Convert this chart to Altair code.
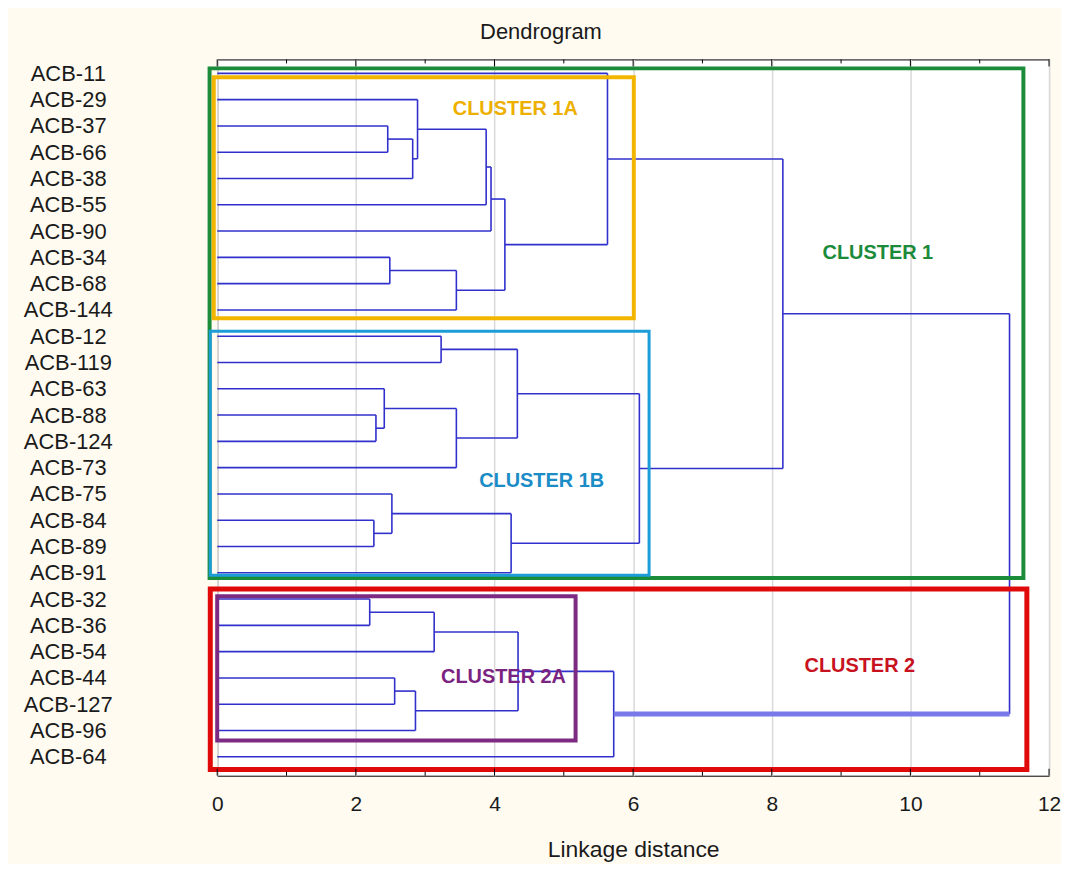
import json
import altair as alt
import pandas as pd

# ---------------- data ----------------
leaves = ["ACB-11", "ACB-29", "ACB-37", "ACB-66", "ACB-38", "ACB-55", "ACB-90", "ACB-34", "ACB-68", "ACB-144",
          "ACB-12", "ACB-119", "ACB-63", "ACB-88", "ACB-124", "ACB-73", "ACB-75", "ACB-84", "ACB-89", "ACB-91",
          "ACB-32", "ACB-36", "ACB-54", "ACB-44", "ACB-127", "ACB-96", "ACB-64"]

merge_ids = ["m1", "m2", "m3", "m4", "m5", "m6", "m7", "m8", "m9", "m10", "m11", "m12", "m13",
             "m14", "m15", "m16", "m17", "m18", "m19", "m20", "m21", "m22", "m23", "m24", "m25", "m26"]
merge_a = ["ACB-37", "m1", "ACB-29", "m3", "m4", "ACB-34", "m6", "m5", "ACB-11", "ACB-12", "ACB-88", "ACB-63",
           "m12", "m10", "ACB-84", "ACB-75", "m16", "m14", "m9", "ACB-32", "m20", "ACB-44", "m22", "m21", "m24", "m19"]
merge_b = ["ACB-66", "ACB-38", "m2", "ACB-55", "ACB-90", "ACB-68", "ACB-144", "m7", "m8", "ACB-119", "ACB-124", "m11",
           "ACB-73", "m13", "ACB-89", "m15", "ACB-91", "m17", "m18", "ACB-36", "ACB-54", "ACB-127", "ACB-96", "m23",
           "ACB-64", "m25"]
merge_h = [2.46, 2.82, 2.89, 3.88, 3.95, 2.49, 3.45, 4.15, 5.63, 3.23, 2.29, 2.41, 3.45,
           4.33, 2.26, 2.52, 4.24, 6.09, 8.16, 2.20, 3.13, 2.56, 2.86, 4.34, 5.72, 11.43]

x_ticks = list(range(0, 13))
x_labels = [0, 2, 4, 6, 8, 10, 12]

box_names = ["CLUSTER 1", "CLUSTER 1A", "CLUSTER 1B", "CLUSTER 2", "CLUSTER 2A"]
box_colors = ["#1B8C3A", "#F2B600", "#1C9DD8", "#E00A0A", "#7D2A82"]
text_colors = ["#1B8A3A", "#EDB000", "#1A8CC6", "#C81220", "#7A2380"]

# ---------------- dendrogram geometry ----------------
pos_y = {name: i for i, name in enumerate(leaves)}
pos_x = {name: 0.0 for name in leaves}
segs = []
for mid, a, b, h in zip(merge_ids, merge_a, merge_b, merge_h):
    is_root = mid == merge_ids[-1]
    for j, c in enumerate((a, b)):
        segs.append({"x": pos_x[c], "x2": h, "y": pos_y[c], "y2": pos_y[c],
                     "thick": bool(is_root and j == 1)})
    segs.append({"x": h, "x2": h, "y": pos_y[a], "y2": pos_y[b], "thick": False})
    pos_y[mid] = (pos_y[a] + pos_y[b]) / 2.0
    pos_x[mid] = h
seg_df = pd.DataFrame(segs)

# annotation boxes (distance units / leaf index units)
box_df = pd.DataFrame({
    "name": box_names,
    "color": box_colors,
    "tcolor": text_colors,
    "x0": [-0.11, -0.05, -0.10, -0.10, 0.0],
    "x1": [11.63, 6.01, 6.23, 11.68, 5.17],
    "y0": [-0.19, 0.15, 9.81, 19.62, 19.89],
    "y1": [19.20, 9.32, 19.09, 26.48, 25.38],
    "sw": [4, 4, 3, 5, 4],
    "tx": [9.53, 4.30, 4.68, 9.27, 4.13],
    "ty": [6.82, 1.36, 15.5, 22.55, 22.97],
})

tick_df = pd.DataFrame({"t": x_ticks, "major": [t % 2 == 0 for t in x_ticks]})

W, H = 835, 719
FONT = "Liberation Sans"

xs = alt.Scale(domain=[0, 12], nice=False, zero=False)
ys = alt.Scale(domain=[-0.53, 26.72], nice=False, zero=False, reverse=True)

label_expr = json.dumps(leaves) + "[datum.value]"

x_axis = alt.Axis(values=x_labels, format="d", grid=True, gridColor="#d9d9d9", gridWidth=1.5, ticks=False,
                  tickSize=0, domain=False, labelFlush=False, labelOverlap=False,
                  labelFont=FONT, labelFontSize=21, labelColor="#1a1a1a", labelPadding=18,
                  title="Linkage distance", titleFont=FONT, titleFontSize=23, titleFontWeight="normal",
                  titleColor="#1a1a1a", titlePadding=24)
y_axis = alt.Axis(values=list(range(len(leaves))), labelExpr=label_expr, grid=False, ticks=False, tickSize=0,
                  domain=False, labelAlign="center", labelBaseline="middle", labelPadding=150,
                  labelOverlap=False, labelBound=False, labelFlush=False,
                  labelFont=FONT, labelFontSize=22, labelColor="#1a1a1a", title=None)


def X(field):
    return alt.X(field, scale=xs, axis=x_axis)


def Y(field):
    return alt.Y(field, scale=ys, axis=y_axis)


base = alt.Chart(seg_df)
lines = base.transform_filter("!datum.thick").mark_rule(color="#3030CC", strokeWidth=1.6).encode(
    x=X("x:Q"), x2="x2:Q", y=Y("y:Q"), y2="y2:Q",
)
thick = base.transform_filter("datum.thick").mark_rule(color="#7878E8", strokeWidth=5).encode(
    x=X("x:Q"), x2="x2:Q", y=Y("y:Q"), y2="y2:Q"
)

boxes = alt.Chart(box_df).mark_rect(fillOpacity=0).encode(
    x=X("x0:Q"), x2="x1:Q",
    y=Y("y0:Q"), y2="y1:Q",
    stroke=alt.Stroke("color:N", scale=None),
    strokeWidth=alt.StrokeWidth("sw:Q", scale=None),
)
texts = alt.Chart(box_df).mark_text(font=FONT, fontWeight="bold", fontSize=20,
                                    align="center", baseline="middle").encode(
    x=X("tx:Q"), y=Y("ty:Q"),
    text="name:N", color=alt.Color("tcolor:N", scale=None),
)

tick_major = alt.Chart(tick_df).transform_filter("datum.major")
tick_minor = alt.Chart(tick_df).transform_filter("!datum.major")
ticks = alt.layer(
    tick_major.mark_rule(color="black", strokeWidth=1).encode(
        x=X("t:Q"), y=alt.value(H), y2=alt.value(H - 7)),
    tick_minor.mark_rule(color="black", strokeWidth=1).encode(
        x=X("t:Q"), y=alt.value(H), y2=alt.value(H - 4)),
    tick_major.mark_rule(color="black", strokeWidth=1).encode(
        x=X("t:Q"), y=alt.value(0), y2=alt.value(7)),
    tick_minor.mark_rule(color="black", strokeWidth=1).encode(
        x=X("t:Q"), y=alt.value(0), y2=alt.value(4)),
)

title = alt.Chart(pd.DataFrame({"t": ["Dendrogram"]})).mark_text(
    font=FONT, fontSize=22, color="#1a1a1a", align="center", baseline="middle"
).encode(text="t:N", x=alt.value(325), y=alt.value(-28))

chart = alt.layer(lines, thick, boxes, texts, ticks, title).properties(
    width=W, height=H, background="#FFFBF1",
    padding={"left": 210, "top": 50, "right": 12, "bottom": 87},
    autosize=alt.AutoSizeParams(type="none"),
).configure_view(stroke="black", strokeWidth=1, fill="white").configure_axis(labelOverlap=False)

chart.save("out.html", embed_options={"renderer": "svg", "actions": False})
